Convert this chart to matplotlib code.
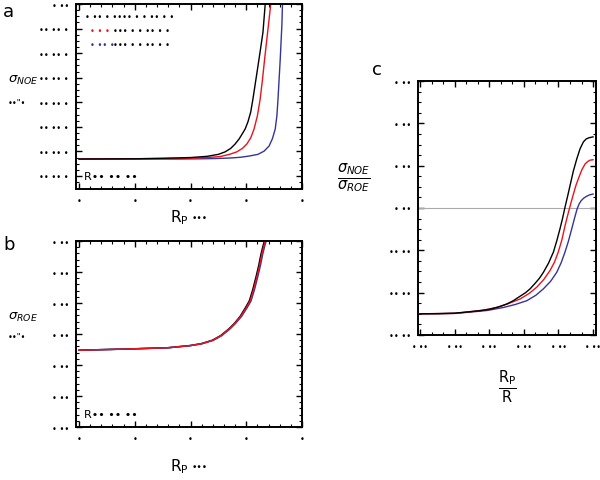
import matplotlib
matplotlib.use("Agg")
import matplotlib.pyplot as plt
from matplotlib.ticker import AutoMinorLocator

# colours of the three cases
BLACK = "#000000"
RED = "#e8141c"
BLUE = "#34349a"

# panel a: sigma_NOE vs R_P
a_black_x = [0.0, 1.0, 1.5, 2.0, 2.3, 2.5, 2.62, 2.72, 2.80, 2.87, 2.93, 2.98, 3.03, 3.08,
             3.12, 3.165, 3.21, 3.255, 3.30, 3.34, 3.35]
a_black_y = [0.69, 0.70, 0.72, 0.75, 0.80, 0.88, 0.98, 1.12, 1.30, 1.50, 1.72, 1.91, 2.20, 2.60,
             3.13, 3.80, 4.47, 5.15, 5.85, 6.99, 7.6]
a_red_x = [0.0, 1.0, 1.5, 2.0, 2.3, 2.53, 2.70, 2.83, 2.93, 3.01, 3.08, 3.14, 3.20, 3.25,
           3.29, 3.33, 3.36, 3.39, 3.44, 3.45]
a_red_y = [0.69, 0.70, 0.71, 0.72, 0.75, 0.79, 0.88, 0.98, 1.12, 1.30, 1.55, 1.91, 2.45, 3.13,
           3.90, 4.76, 5.37, 5.98, 6.99, 7.6]
a_blue_x = [0.0, 1.81, 2.2, 2.44, 2.70, 2.89, 3.05, 3.21, 3.32, 3.41, 3.47, 3.52, 3.55, 3.57,
            3.59, 3.61, 3.625, 3.64, 3.65, 3.66]
a_blue_y = [0.69, 0.69, 0.70, 0.71, 0.73, 0.76, 0.81, 0.88, 1.01, 1.22, 1.52, 1.91, 2.45, 3.13,
            3.95, 4.76, 5.47, 6.18, 6.99, 7.6]

# panel b: sigma_ROE vs R_P (three nearly identical curves)
b_red_x = [0.0, 0.9, 1.6, 2.0, 2.2, 2.4, 2.55, 2.7, 2.8, 2.9, 3.0, 3.07, 3.13, 3.19, 3.24,
           3.28, 3.31, 3.34, 3.36]
b_red_y = [2.48, 2.52, 2.56, 2.63, 2.69, 2.80, 2.95, 3.17, 3.35, 3.57, 3.85, 4.07, 4.42, 4.84,
           5.22, 5.58, 5.80, 6.0, 6.3]
b_black_x = [0.0, 0.9, 1.6, 1.99, 2.19, 2.39, 2.54, 2.69, 2.79, 2.89, 2.985, 3.055, 3.115, 3.175,
             3.225, 3.265, 3.295, 3.325, 3.345]
b_black_y = b_red_y
b_blue_x = [0.0, 0.9, 1.6, 2.01, 2.21, 2.41, 2.56, 2.71, 2.81, 2.915, 3.015, 3.085, 3.145, 3.205,
            3.255, 3.295, 3.325, 3.355, 3.375]
b_blue_y = b_red_y

# panel c: ratio vs R_P/R
c_black_x = [0.0, 0.1, 0.2, 0.289, 0.35, 0.405, 0.46, 0.50, 0.539, 0.58, 0.61, 0.636, 0.665,
             0.69, 0.713, 0.743, 0.771, 0.79, 0.809, 0.824, 0.838, 0.853, 0.867, 0.886, 0.906,
             0.925, 0.944, 0.96, 0.977, 1.0]
c_black_y = [0.50, 0.505, 0.515, 0.55, 0.575, 0.61, 0.67, 0.73, 0.81, 0.92, 1.00, 1.09, 1.22,
             1.34, 1.48, 1.70, 1.96, 2.22, 2.51, 2.76, 3.02, 3.28, 3.53, 3.87, 4.16,
             4.40, 4.56, 4.63, 4.66, 4.68]
c_red_x = [0.0, 0.1, 0.2, 0.289, 0.37, 0.443, 0.51, 0.578, 0.63, 0.675, 0.715, 0.751, 0.777,
           0.799, 0.82, 0.838, 0.851, 0.863, 0.875, 0.886, 0.90, 0.915, 0.935, 0.954, 0.97,
           0.983, 1.0]
c_red_y = [0.50, 0.505, 0.51, 0.55, 0.59, 0.65, 0.74, 0.85, 0.98, 1.13, 1.31, 1.52, 1.72,
           1.96, 2.25, 2.58, 2.79, 2.98, 3.16, 3.32, 3.52, 3.69, 3.90, 4.04, 4.10,
           4.13, 4.14]
c_blue_x = [0.0, 0.1, 0.2, 0.289, 0.39, 0.482, 0.55, 0.617, 0.67, 0.713, 0.755, 0.790, 0.815,
            0.838, 0.858, 0.877, 0.893, 0.908, 0.92, 0.931, 0.945, 0.964, 0.98, 1.0]
c_blue_y = [0.50, 0.50, 0.51, 0.54, 0.58, 0.65, 0.72, 0.81, 0.94, 1.09, 1.27, 1.48, 1.70,
            1.96, 2.22, 2.51, 2.76, 2.98, 3.10, 3.17, 3.23, 3.28, 3.31, 3.33]
c_ref_level = 3.0

# tick labels (rendered as dots in the source figure)
a_xticks = [0, 1, 2, 3, 4]
a_xlabels = ["•"] * 5
a_yticks = [0, 1, 2, 3, 4, 5, 6, 7]
a_ylabels = ["•• •• •"] * 7 + ["• ••"]
b_yticks = [0, 1, 2, 3, 4, 5, 6]
b_ylabels = ["• ••"] * 7
c_xticks = [0.0, 0.2, 0.4, 0.6, 0.8, 1.0]
c_xlabels = ["• ••"] * 6
c_yticks = [0, 1, 2, 3, 4, 5, 6]
c_ylabels = ["•• ••"] * 3 + ["• ••"] * 4


def frame(ax, xminor, yminor):
    for s in ax.spines.values():
        s.set_linewidth(1.4)
    ax.xaxis.set_minor_locator(AutoMinorLocator(xminor))
    ax.yaxis.set_minor_locator(AutoMinorLocator(yminor))
    ax.tick_params(which="both", direction="in", top=True, right=True,
                   labelsize=6, pad=5)
    ax.tick_params(which="major", length=4, width=1)
    ax.tick_params(which="minor", length=2, width=0.8)


def rp_label(x, y):
    # "R_P" followed by the small dots
    fig.text(x, y, r"R$_\mathregular{P}$", fontsize=11, ha="left", va="center")
    fig.text(x + 0.037, y - 0.002, "•••", fontsize=6.5, ha="left", va="center")


fig = plt.figure(figsize=(6, 4.81), dpi=100)

# ---- a ----
ax = fig.add_axes([0.1267, 0.605, 0.3766, 0.3846])
ax.plot(a_blue_x, a_blue_y, color=BLUE, lw=1)
ax.plot(a_red_x, a_red_y, color=RED, lw=1)
ax.plot(a_black_x, a_black_y, color=BLACK, lw=1)
ax.set_xlim(-0.054, 4.0)
ax.set_ylim(-0.53, 7.0)
ax.set_xticks(a_xticks, a_xlabels)
ax.set_yticks(a_yticks, a_ylabels)
frame(ax, 5, 4)
ax.text(0.035, 0.055, "R•• •• ••", transform=ax.transAxes, fontsize=8)
# legend-ish rows
ax.text(0.04, 0.93, "• •• • •••• • • •• • •", transform=ax.transAxes, fontsize=6,
        color=BLACK, va="center")
for i, (col, head) in enumerate([(RED, "• • •"), (BLUE, "• •• •")]):
    yy = 0.855 - i * 0.072
    ax.text(0.06, yy, head, transform=ax.transAxes, fontsize=6, color=col, va="center")
    ax.text(0.165, yy, "••• • • •• • •", transform=ax.transAxes, fontsize=6,
            color=BLACK, va="center")
fig.text(0.013, 0.833, r"$\sigma_{NOE}$", fontsize=9.5, va="center")
fig.text(0.013, 0.785, "••\"•", fontsize=6, va="center")
rp_label(0.283, 0.548)
fig.text(0.005, 0.975, "a", fontsize=13, va="center")

# ---- b ----
ax = fig.add_axes([0.1267, 0.110, 0.3766, 0.3867])
ax.plot(b_black_x, b_black_y, color=BLACK, lw=1.1)
ax.plot(b_blue_x, b_blue_y, color=BLUE, lw=1.1)
ax.plot(b_red_x, b_red_y, color=RED, lw=1)
ax.set_xlim(-0.054, 4.0)
ax.set_ylim(0, 6)
ax.set_xticks(a_xticks, a_xlabels)
ax.set_yticks(b_yticks, b_ylabels)
frame(ax, 5, 5)
ax.text(0.035, 0.055, "R•• •• ••", transform=ax.transAxes, fontsize=8)
fig.text(0.013, 0.341, r"$\sigma_{ROE}$", fontsize=9.5, va="center")
fig.text(0.013, 0.298, "••\"•", fontsize=6, va="center")
rp_label(0.283, 0.030)
fig.text(0.005, 0.49, "b", fontsize=13, va="center")

# ---- c ----
ax = fig.add_axes([0.6967, 0.3015, 0.2966, 0.528])
ax.axhline(c_ref_level, color="#aaaaaa", lw=0.8)
ax.plot(c_blue_x, c_blue_y, color=BLUE, lw=1)
ax.plot(c_red_x, c_red_y, color=RED, lw=1)
ax.plot(c_black_x, c_black_y, color=BLACK, lw=1)
ax.set_xlim(-0.012, 1.017)
ax.set_ylim(0, 6)
ax.set_xticks(c_xticks, c_xlabels)
ax.set_yticks(c_yticks, c_ylabels)
frame(ax, 3, 4)
ax.tick_params(axis="x", labelsize=5.5)
fig.text(0.59, 0.63, r"$\frac{\sigma_{NOE}}{\sigma_{ROE}}$", fontsize=15, ha="center", va="center")
fig.text(0.845, 0.195, r"$\frac{\mathregular{R_P}}{\mathregular{R}}$", fontsize=15,
         ha="center", va="center")
fig.text(0.62, 0.855, "c", fontsize=13, va="center")

fig.savefig("out.png", dpi=100)
